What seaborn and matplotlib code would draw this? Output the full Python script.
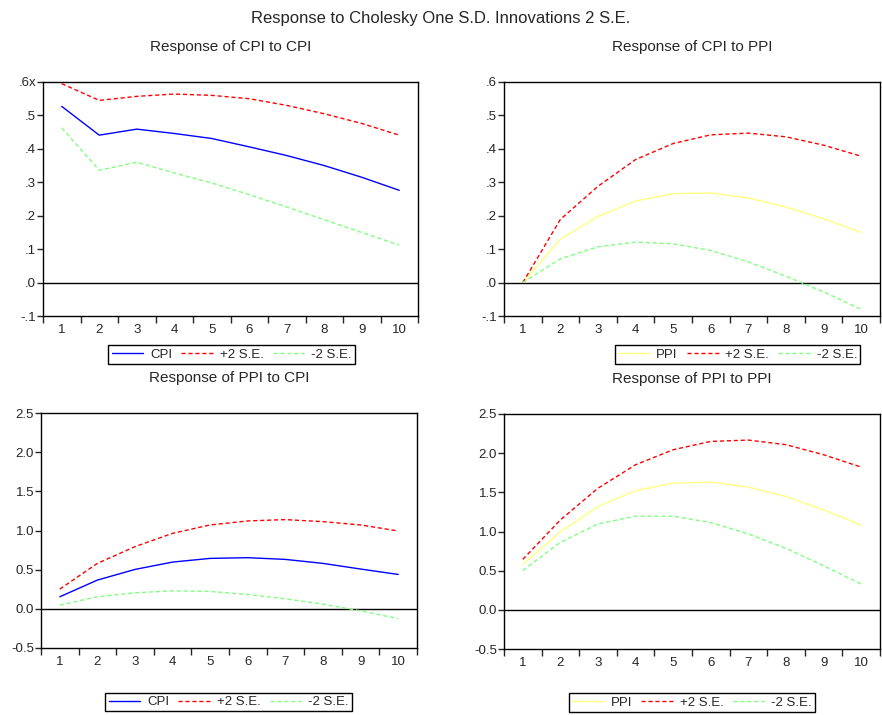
import numpy as np
import pandas as pd
import seaborn as sns
import matplotlib
matplotlib.use('Agg')
import matplotlib.pyplot as plt

periods = [1, 2, 3, 4, 5, 6, 7, 8, 9, 10]

# Response of CPI to CPI
cpi_cpi = [0.527, 0.441, 0.459, 0.446, 0.431, 0.406, 0.380, 0.350, 0.315, 0.276]
cpi_cpi_up = [0.595, 0.545, 0.557, 0.564, 0.560, 0.550, 0.530, 0.505, 0.476, 0.441]
cpi_cpi_lo = [0.463, 0.336, 0.360, 0.328, 0.298, 0.263, 0.226, 0.188, 0.150, 0.112]

# Response of CPI to PPI
cpi_ppi = [0.0, 0.130, 0.198, 0.244, 0.266, 0.268, 0.253, 0.226, 0.191, 0.150]
cpi_ppi_up = [0.0, 0.189, 0.288, 0.368, 0.416, 0.442, 0.447, 0.436, 0.411, 0.378]
cpi_ppi_lo = [0.0, 0.071, 0.107, 0.121, 0.116, 0.096, 0.062, 0.019, -0.028, -0.080]

# Response of PPI to CPI
ppi_cpi = [0.154, 0.367, 0.503, 0.597, 0.644, 0.653, 0.631, 0.580, 0.508, 0.439]
ppi_cpi_up = [0.252, 0.580, 0.794, 0.964, 1.071, 1.122, 1.139, 1.113, 1.071, 0.994]
ppi_cpi_lo = [0.047, 0.154, 0.205, 0.230, 0.222, 0.183, 0.128, 0.060, -0.026, -0.124]

# Response of PPI to PPI
ppi_ppi = [0.580, 0.998, 1.318, 1.523, 1.617, 1.630, 1.566, 1.446, 1.276, 1.079]
ppi_ppi_up = [0.644, 1.148, 1.553, 1.852, 2.044, 2.150, 2.167, 2.108, 1.980, 1.822]
ppi_ppi_lo = [0.503, 0.862, 1.097, 1.195, 1.195, 1.114, 0.969, 0.785, 0.563, 0.329]

small_ticks = [-0.1, 0.0, 0.1, 0.2, 0.3, 0.4, 0.5, 0.6]
small_labels = ['-.1', '.0', '.1', '.2', '.3', '.4', '.5', '.6']
big_ticks = [-0.5, 0.0, 0.5, 1.0, 1.5, 2.0, 2.5]
big_labels = ['-0.5', '0.0', '0.5', '1.0', '1.5', '2.0', '2.5']

sns.set_style('ticks')
plt.rcParams['font.family'] = ['Liberation Sans', 'DejaVu Sans']

fig = plt.figure(figsize=(8.82, 7.15), dpi=100)

panels = [
    # title, shock name, resp, up, lo, colour, ticks, labels, axes rect, legend rect
    ('Response of CPI to CPI', 'CPI', cpi_cpi, cpi_cpi_up, cpi_cpi_lo, '#0000ff',
     small_ticks, ['-.1', '.0', '.1', '.2', '.3', '.4', '.5', '.6x'],
     [43, 82, 418, 316], [111, 345, 352, 364]),
    ('Response of CPI to PPI', 'PPI', cpi_ppi, cpi_ppi_up, cpi_ppi_lo, '#ffff80',
     small_ticks, small_labels,
     [504, 82, 880, 316], [617, 345, 858, 364]),
    ('Response of PPI to CPI', 'CPI', ppi_cpi, ppi_cpi_up, ppi_cpi_lo, '#0000ff',
     big_ticks, big_labels,
     [41, 413, 417, 648], [108, 691, 349, 713]),
    ('Response of PPI to PPI', 'PPI', ppi_ppi, ppi_ppi_up, ppi_ppi_lo, '#ffff80',
     big_ticks, big_labels,
     [504, 414, 880, 649], [572, 692, 812, 713]),
]

W, H = 882.0, 715.0
for title, name, resp, up, lo, col, yt, yl, r, lr in panels:
    ax = fig.add_axes([r[0] / W, 1 - r[3] / H, (r[2] - r[0]) / W, (r[3] - r[1]) / H])
    df = pd.DataFrame({'period': periods, 'resp': resp, 'up': up, 'lo': lo})
    sns.lineplot(data=df, x='period', y='resp', ax=ax, color=col, lw=1, label=name)
    sns.lineplot(data=df, x='period', y='up', ax=ax, color='#ff0000', lw=1,
                 label='+2 S.E.').lines[-1].set_linestyle((0, (3, 2)))
    sns.lineplot(data=df, x='period', y='lo', ax=ax, color='#80ff80', lw=1,
                 label='-2 S.E.').lines[-1].set_linestyle((0, (3, 2)))
    ax.axhline(0, color='black', lw=1, zorder=1)
    ax.set_xlim(0.5, 10.5)
    ax.set_ylim(yt[0], yt[-1])
    ax.set_xticks(periods)
    ax.set_xticklabels([str(p) for p in periods], fontsize=9.5)
    ax.set_xticks(np.arange(0.5, 11, 1), minor=True)
    ax.tick_params(axis='x', which='major', length=0, pad=6)
    ax.tick_params(axis='x', which='minor', length=5, direction='out', width=1)
    ax.set_yticks(yt)
    ax.set_yticklabels(yl, fontsize=9.5)
    ax.tick_params(axis='y', length=4, direction='out', width=1, pad=1)
    ax.set_xlabel('')
    ax.set_ylabel('')
    for s in ax.spines.values():
        s.set_linewidth(1)
        s.set_color('black')
    ax.set_title(title, fontsize=11, pad=22)
    ax.legend(loc='center', ncol=3, fontsize=9.5, frameon=True, fancybox=False,
              edgecolor='black', framealpha=1, handlelength=2.4, columnspacing=0.7,
              handletextpad=0.5, borderpad=0.25,
              bbox_to_anchor=((lr[0] + lr[2]) / 2 / W, 1 - (lr[1] + lr[3]) / 2 / H),
              bbox_transform=fig.transFigure)

fig.suptitle('Response to Cholesky One S.D. Innovations 2 S.E.', fontsize=12, y=1 - 18 / H, va='center')
fig.savefig('out.png', dpi=100)
